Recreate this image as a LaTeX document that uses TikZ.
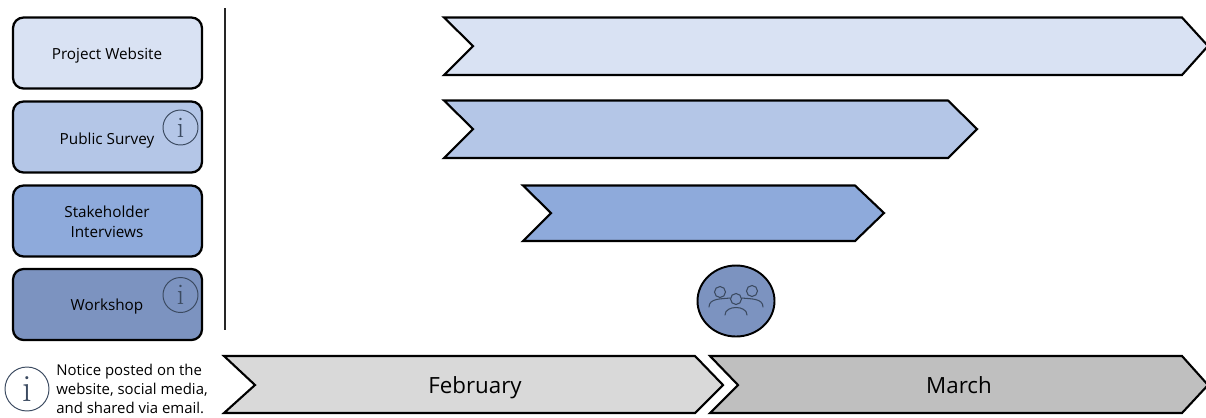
\documentclass[tikz,border=0pt]{standalone}
\usepackage{fontspec}
\setmainfont{Open Sans}
\usepackage{tikz}
\usetikzlibrary{positioning}
\definecolor{rowA}{HTML}{D9E2F3}
\definecolor{rowB}{HTML}{B4C6E7}
\definecolor{rowC}{HTML}{8EAADB}
\definecolor{rowD}{HTML}{7C93C0}
\definecolor{monthA}{HTML}{D9D9D9}
\definecolor{monthB}{HTML}{BFBFBF}
\definecolor{iconline}{HTML}{3B4A60}

\begin{document}
\begin{tikzpicture}[
		x=0.02cm, y=-0.02cm,
		task/.style={draw=black, line width=1.3pt, rounded corners=6pt, minimum width=3.78cm, minimum height=1.42cm, inner sep=0pt},
		tasktext/.style={align=center, inner sep=0pt, font=\fontsize{8.7}{11.4}\selectfont},
		bar/.style={draw=black, line width=1.2pt, line join=miter},
		info/.style={circle, draw=iconline, line width=0.55pt, minimum size=#1, inner sep=0pt, font=\fontfamily{lmr}\fontsize{17}{17}\selectfont, text=iconline},
		month/.style={font=\fontsize{12.7}{15}\selectfont},
		person/.style={draw=iconline, line width=0.6pt, line cap=round}
		]
	\useasboundingbox (0,0) rectangle (1206,417);

		% Left column
		\node[task, fill=rowA] (website) at (107.5,53) {};
		\node[task, fill=rowB] (survey) at (107.5,137) {};
		\node[task, fill=rowC] (interviews) at (107.5,221) {};
		\node[task, fill=rowD] (workshop) at (107.5,304.5) {};
		\node[tasktext] (websitetext) at (107,56) {Project Website};
		\node[tasktext] (surveytext) at (107,141) {Public Survey};
		\node[tasktext] (interviewstext) at (107,222) {Stakeholder\\Interviews};
		\node[tasktext] (workshoptext) at (107,306.5) {Workshop};
		\node[info=0.7cm] (surveyinfo) at (180.5,127.5) {i};
		\node[info=0.7cm] (workshopinfo) at (180.5,295) {i};

		\coordinate (railtop) at (225,8);
		\coordinate (railend) at (225,330);
		\draw[line width=1.2pt, draw=black!85] (railtop) -- (railend);

		% Bars
		\draw[bar, fill=rowA] (444,17.5) -- (1182,17.5) -- (1208,46) -- (1182,75) -- (444,75) -- (473,46) -- cycle;
		\draw[bar, fill=rowB] (444,100.5) -- (948,100.5) -- (977,129) -- (948,158) -- (444,158) -- (473,129) -- cycle;
		\draw[bar, fill=rowC] (523,185.5) -- (855,185.5) -- (884,213) -- (855,241) -- (523,241) -- (551,213) -- cycle;

		% Workshop marker
		\draw[line width=1.1pt, fill=rowD] (736,301) ellipse [x radius=38.5, y radius=35.5];
		\draw[person] (720,292) circle (5.5);
		\draw[person] (752,291) circle (5.5);
		\draw[person] (736,299) circle (5.5);
		\draw[person] (709,307) .. controls (709,298) and (722,299) .. (730,298);
		\draw[person] (763,307) .. controls (763,298) and (750,299) .. (742,298);
		\draw[person] (725,315) .. controls (725,305) and (747,305) .. (747,315);

		% Months
		\draw[bar, fill=monthA] (224,356) -- (695,356) -- (723,385) -- (695,413) -- (224,413) -- (255,385) -- cycle;
		\draw[bar, fill=monthB] (710,356) -- (1182,356) -- (1208,385) -- (1182,413) -- (710,413) -- (738,385) -- cycle;
		\node[month] (february) at (475,388) {February};
		\node[month] (march) at (959,385) {March};

		% Legend
		\node[info=0.88cm, font=\fontfamily{lmr}\fontsize{22}{22}\selectfont] (legendinfo) at (27,389) {i};
		\node[right=3.7pt of legendinfo, align=left, inner sep=0pt, font=\fontsize{8.5}{10.6}\selectfont] (legendtext) {Notice posted on the\\website, social media,\\and shared via email.};
	\end{tikzpicture}
\end{document}
